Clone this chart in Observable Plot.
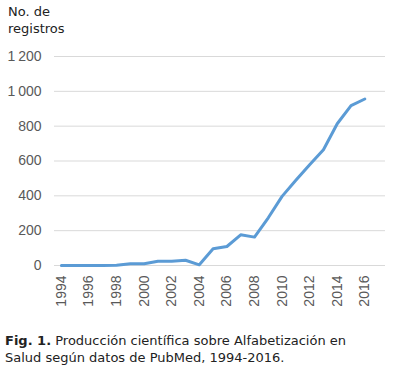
<!DOCTYPE html>
<html><head><meta charset="utf-8">
<script src="https://cdn.jsdelivr.net/npm/d3@7"></script>
<script src="https://cdn.jsdelivr.net/npm/@observablehq/plot@0.6"></script>
<style>
body{margin:0;background:#fff;width:394px;height:374px;overflow:hidden;font-family:"DejaVu Sans",Verdana,sans-serif;}
#title{height:40px;box-sizing:border-box;padding:3px 0 0 8px;font-size:13px;line-height:17px;color:#222;}
#caption{padding:7px 0 0 5px;font-size:13px;line-height:17px;color:#222;white-space:nowrap;}
svg{display:block;}
</style></head><body>
<div id="title">No. de<br>registros</div>
<div id="chart"></div>
<div id="caption"><b>Fig. 1.</b> Producción científica sobre Alfabetización en<br>Salud según datos de PubMed, 1994-2016.</div>
<script>
const years = [1994,1995,1996,1997,1998,1999,2000,2001,2002,2003,2004,2005,2006,2007,2008,2009,2010,2011,2012,2013,2014,2015,2016];
const registros = [0,0,0,0,1,10,10,24,24,30,4,96,109,176,163,274,397,489,579,665,814,918,956];
const yTicks = [0,200,400,600,800,1000,1200];
const xTicks = [1994,1996,1998,2000,2002,2004,2006,2008,2010,2012,2014,2016];

const data = years.map((y,i)=>({year:y, value:registros[i]}));
const fmt = d => d >= 1000 ? String(d).replace(/(\d)(\d{3})$/, "$1\u2009$2") : String(d);

const chart = Plot.plot({
  width: 394,
  height: 285,
  marginLeft: 54,
  marginRight: 9,
  marginTop: 16,
  marginBottom: 60,
  style: {fontFamily: "'Liberation Sans', Arial, sans-serif", fontSize: "14px", color: "#595959", background: "#fff"},
  x: {domain: [1993.5, 2017.5]},
  y: {domain: [0, 1200]},
  marks: [
    Plot.gridY(yTicks, {stroke: "#d9d9d9", strokeOpacity: 1, strokeWidth: 1}),
    Plot.axisY(yTicks, {tickSize: 0, tickPadding: 13, tickFormat: fmt, label: null, fill: "#595959", fontSize: 14}),
    Plot.axisX(xTicks, {tickSize: 0, tickPadding: 10, tickRotate: -90, tickFormat: d => String(d), label: null, fill: "#595959", fontSize: 14}),
    Plot.line(data, {x: "year", y: "value", stroke: "#5b9bd5", strokeWidth: 3, strokeLinejoin: "round", strokeLinecap: "round"})
  ]
});
document.getElementById("chart").appendChild(chart);
</script>
</body></html>
